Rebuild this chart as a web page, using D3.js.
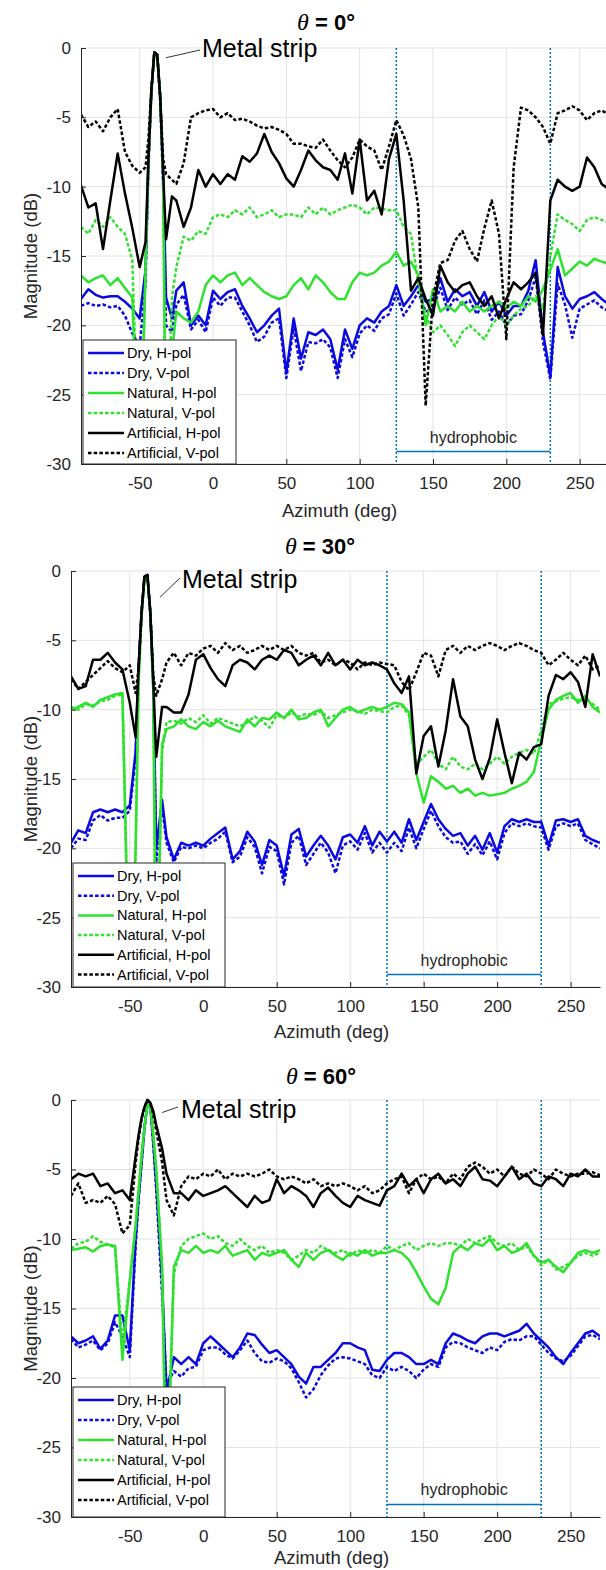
<!DOCTYPE html>
<html>
<head>
<meta charset="utf-8">
<script src="https://cdnjs.cloudflare.com/ajax/libs/d3/7.8.5/d3.min.js"></script>
<style>
body { margin: 0; background: #fff; }
svg { display: block; font-family: "Liberation Sans", Arial, sans-serif; }
.tick text { fill: #262626; font-size: 17px; }
.tick line, .domain { stroke: #262626; }
</style>
</head>
<body>
<svg id="chart" width="606" height="1570"></svg>
<script>

// azimuth samples (deg), denser around the metal strip peak
var azimuth = [-90,-85,-80,-75,-70,-65,-60,-55,-50,-46,-44,-42,-40,-38,-36,-34,-32,-28,
  -25,-20,-15,-10,-5,0,5,10,15,20, 25,30,35,40,45,50,55,60,65,70,
  75,80,85,90,95,100,105,110,115,120, 125,130,135,140,145,150,155,160,165,170,
  175,180,185,190,195,200,205,210,215,220, 225,230,235,240,245,250,255,260,265,270];

var seriesNames = ["Dry, H-pol", "Dry, V-pol", "Natural, H-pol", "Natural, V-pol", "Artificial, H-pol", "Artificial, V-pol"];
var xTicks = [-50, 0, 50, 100, 150, 200, 250];
var yTicks = [-30, -25, -20, -15, -10, -5, 0];
var hydrophobic = [125, 230];
var thetas = ["0°", "30°", "60°"];

// theta = 0
var dryH0 = [-18.1,-17.4,-17.8,-18.0,-17.9,-17.9,-18.3,-18.8,-19.5,-16,-8,-3,-0.3,-0.5,-3.5,-9,-18,-19.5,
  -17.5,-16.9,-20,-19.3,-20,-17.5,-18.1,-17.6,-17.4,-18.6, -19.5,-20.5,-20,-19.3,-18.8,-23.4,-19.5,-22.4,-20.5,-20.7,
  -20.3,-21,-23.2,-20.3,-21.7,-20,-19.5,-19.8,-19,-18.6, -17.1,-18.6,-17.9,-17.1,-18.3,-18.1,-16.6,-18.3,-17.4,-17.9,
  -17.6,-18.6,-17.6,-19,-18.3,-19.3,-18.6,-18.6,-17.5,-15.3, -20.5,-23.7,-15.8,-17.9,-18.8,-18.1,-17.9,-17.6,-18.1,-18.5];
var dryV0 = [-18.6,-18.4,-18.6,-18.5,-18.7,-18.6,-19.3,-20.6,-21.5,-17,-8.5,-3.2,-0.4,-0.6,-3.8,-10,-20,-20.5,
  -18.5,-17.8,-20.3,-19.6,-20.5,-18,-18.6,-18,-18,-19, -20,-21.2,-20.8,-19.8,-19.5,-23.8,-20.2,-23.3,-21.2,-21.3,
  -21,-21.6,-23.8,-21,-22.3,-20.6,-20,-20.4,-19.5,-19.2, -17.7,-19.3,-18.5,-17.6,-19,-18.8,-17.3,-18.9,-18,-18.5,
  -18.2,-19.2,-18.2,-19.6,-19,-20,-19.3,-19.2,-18.2,-16.5, -21.2,-23.9,-17,-18.5,-20.9,-18.8,-18.5,-18.2,-18.7,-19];
var natH0 = [-16.4,-16.9,-16.6,-16.4,-17.1,-16.6,-17.3,-18,-32,-16,-8,-3,-0.3,-0.5,-3.5,-9,-32,-22,
  -19,-19.5,-19.8,-19,-17.1,-16.4,-16.9,-16.4,-16.2,-17.1, -16.6,-17.1,-17.6,-17.9,-18.1,-17.9,-17.1,-16.6,-17.4,-16.4,
  -16.9,-17.6,-18.1,-18.1,-16.9,-16.2,-16.4,-16.2,-15.7,-15.4, -14.7,-15.7,-15.4,-16.4,-20,-17.4,-19,-18.6,-19,-18.3,
  -19,-18.6,-19,-18.6,-18.3,-18.8,-18.3,-18.6,-17.9,-18.3, -17.4,-16,-14.5,-16.4,-15.9,-15.4,-15.7,-15.2,-15.4,-15.6];
var natV0 = [-12.9,-13.4,-12.4,-12.9,-12.2,-12.9,-13.4,-15.3,-32,-16,-8,-3,-0.3,-0.5,-3.5,-9,-32,-18,
  -15.8,-13.6,-13.9,-13.2,-13.4,-12.2,-12,-12.2,-11.7,-12, -11.5,-12.2,-12,-11.7,-12.2,-12,-12,-12.2,-11.5,-12,
  -11.5,-12,-11.7,-11.5,-11.3,-11.5,-12,-11.5,-11.6,-11.7, -11.7,-12.9,-13.4,-17,-19.3,-20.5,-20,-20.7,-21.5,-20.5,
  -20,-20.5,-21,-20,-19.3,-20,-19.3,-18.8,-18.6,-17.9, -18.8,-15,-12,-12.4,-12.7,-13.2,-12.4,-12.2,-12.4,-12.6];
var artH0 = [-9.9,-11.5,-11.2,-14.5,-11,-7.6,-10.5,-13,-15.8,-14,-8,-3,-0.3,-0.5,-3.5,-9,-13.8,-10.7,
  -11,-12.9,-11.5,-8.8,-10,-9.1,-9.8,-9.1,-9.5,-7.8, -8.2,-7.6,-6.2,-7.5,-8.3,-9.4,-10,-8.8,-7.4,-8.1,
  -8.6,-8.8,-9.5,-7.6,-10.5,-6.6,-11,-10.3,-12,-8, -6.2,-11,-17.5,-16.6,-18.1,-19.3,-15.7,-16.9,-17.6,-17.1,
  -16.9,-17.9,-18.6,-17.9,-19.5,-18.1,-16.9,-17.4,-16.9,-16.2, -20.7,-11,-9.5,-10,-10.3,-10,-7.9,-8.6,-9.8,-10.2];
var artV0 = [-4.8,-5.7,-5.3,-6.0,-5.0,-4.4,-7.5,-8.5,-9,-8.6,-6.5,-3,-0.3,-0.5,-3.5,-8,-9.1,-9.5,
  -9.8,-8.3,-5,-4.7,-4.5,-4.4,-5,-4.7,-5.2,-5.1, -5.3,-5.6,-5.8,-5.7,-5.9,-6.2,-6.9,-6.9,-7.1,-7.2,
  -6.6,-7.4,-8.1,-8.6,-7.9,-6.6,-7.1,-7.4,-8.8,-7.1, -5.2,-6.3,-8,-11.5,-25.8,-18,-15.5,-15.3,-13.9,-13.2,
  -14.5,-15.4,-13,-11,-13.4,-21,-8.6,-4.3,-4.5,-5, -5.7,-6.9,-4.7,-4.5,-4.2,-4.5,-5.2,-4.7,-4.5,-4.8];

// theta = 30
var dryH30 = [-19.6,-18.7,-18.9,-17.4,-17.2,-17.4,-17.2,-17.4,-16.9,-13,-7,-3,-0.4,-0.3,-3,-8,-20,-16.5,
  -19.2,-20.8,-19.6,-19.8,-19.6,-19.8,-19.3,-18.9,-18.5,-20.8, -20.2,-18.8,-19.5,-21.2,-19.4,-19.8,-22,-19,-18.6,-20.6,
  -19.8,-19.1,-19.8,-20.8,-19.2,-19,-19.6,-18.4,-19.8,-18.8, -19.5,-18.8,-19.6,-17.9,-19.4,-18.1,-16.8,-17.9,-18.6,-19.1,
  -18.9,-19.8,-19.1,-20.1,-18.9,-20.3,-18.4,-17.9,-18.1,-17.9, -18.1,-18.1,-19.8,-18,-17.9,-18.1,-17.9,-19.1,-19.4,-19.6];
var dryV30 = [-20,-19.3,-19.4,-18,-17.6,-18,-17.8,-17.8,-17.3,-13.5,-7.2,-3.1,-0.4,-0.3,-3.1,-8.5,-21,-17,
  -19.6,-21,-19.9,-20,-19.8,-20,-19.6,-19.3,-18.8,-21, -20.6,-19.2,-19.9,-21.8,-19.9,-20.2,-22.6,-19.6,-19.1,-21.2,
  -20.4,-19.6,-20.3,-21.8,-19.8,-19.5,-20.1,-18.9,-20.3,-19.6, -20.3,-19.6,-20.2,-18.5,-20,-18.6,-17.3,-18.4,-19.2,-19.6,
  -19.5,-20.4,-19.7,-20.5,-19.5,-20.8,-18.9,-18.2,-18.4,-18.2, -18.4,-18.5,-20.1,-18.4,-18.2,-18.4,-18.2,-19.4,-19.7,-20];
var natH30 = [-10,-9.8,-9.5,-9.8,-9.3,-9.1,-8.9,-8.8,-32,-20,-8,-3.2,-0.5,-0.4,-3.2,-8.5,-32,-12.5,
  -11.4,-11.2,-10.7,-11.2,-11.4,-10.9,-11.2,-10.8,-11.2,-11.4, -11.6,-10.7,-11.2,-10.6,-10.7,-10.2,-10.6,-10,-10.7,-10.6,
  -10.2,-10,-11.2,-10.6,-10,-9.8,-10.2,-10,-9.8,-10, -9.8,-9.5,-9.6,-10.2,-14.6,-16.7,-14.8,-15.2,-15.7,-15.5,
  -16,-15.7,-16.2,-16,-16.2,-16.1,-16,-15.7,-15.5,-15.2, -14.5,-12.2,-10,-9.3,-9,-8.8,-9.5,-9,-9.8,-10.2];
var natV30 = [-9.8,-10,-9.6,-9.7,-9.4,-9.3,-9,-8.9,-32,-20,-8,-3.2,-0.5,-0.4,-3.2,-8.5,-32,-13,
  -10.9,-10.8,-11,-10.6,-10.9,-10.4,-11,-10.6,-10.8,-11, -11.2,-10.9,-10.5,-10.8,-11.3,-10.4,-10.6,-10.2,-10.5,-10.3,
  -10.4,-10.1,-10.6,-10.4,-10.2,-10,-10.1,-10.3,-10,-10.1, -10.2,-9.8,-9.7,-10.4,-14,-13.4,-12.9,-13.9,-14.3,-13.4,
  -14.1,-14.3,-13.9,-14.3,-13.9,-13.4,-13.9,-13.4,-13.1,-12.9, -13.2,-11.5,-9.6,-9.4,-9.2,-9.1,-9.3,-9.2,-9.6,-10];
var artH30 = [-7.6,-8.5,-8.3,-6.4,-6.4,-5.9,-6.6,-7.1,-9.5,-12,-7,-3,-0.4,-0.3,-3,-8,-13.4,-9.8,
  -9.8,-10.2,-10.2,-8.9,-6.4,-6,-7,-7.8,-8.3,-6.8, -6.4,-6.6,-7.1,-6.4,-6.1,-6.4,-5.7,-5.9,-6.8,-6.4,
  -6.1,-6.8,-5.9,-6.8,-6.4,-7.1,-6.4,-6.8,-6.6,-6.8, -7.1,-8.1,-8.8,-7.6,-14.6,-11.9,-11.2,-14.1,-11.5,-7.8,
  -10.5,-11.2,-13.6,-15,-13.5,-10.7,-13.1,-15.3,-13.1,-13.6, -12.7,-12.5,-9,-7.5,-7.8,-7.3,-8,-9.8,-6,-7.6];
var artV30 = [-7.8,-8.5,-8,-7.5,-7,-6.5,-7,-7.3,-6.8,-8.8,-7,-3,-0.4,-0.3,-3,-7.5,-9,-7.8,
  -6.6,-5.9,-6.8,-5.9,-6.1,-5.6,-5.4,-5.9,-5.2,-5.7, -5.4,-5.9,-5.7,-5.4,-5.7,-5.4,-5.7,-5.4,-5.9,-6.1,
  -5.9,-6.6,-6.4,-6.8,-6.4,-6.6,-7.1,-6.6,-6.8,-6.6, -6.7,-6.8,-8,-8.6,-7.3,-5.9,-6.1,-7.6,-5.7,-5.4,
  -5.9,-5.4,-5.7,-5.4,-5.2,-5.4,-5.7,-5.4,-5.2,-5.4, -5.7,-5.9,-6.8,-6.4,-5.9,-6.4,-6.8,-6.1,-7.1,-6.8];

// theta = 60
var dryH60 = [-17,-17.5,-17.3,-17,-17.9,-17.3,-15.5,-15.5,-18,-10,-7,-4.5,-2,-0.3,-0.5,-3,-6,-13,
  -21,-18.5,-19,-18.5,-19,-17.5,-17,-17.5,-18,-18.5, -17.8,-16.8,-16.9,-17.6,-18.2,-18,-18.5,-19,-19.9,-20.4,
  -19.2,-19.2,-18.7,-18.2,-17.5,-17.5,-17.8,-18,-19.4,-19.5, -18.7,-18.2,-18.2,-18.5,-19,-19,-18.7,-19,-17.5,-16.8,
  -17,-17.3,-17.5,-17,-16.8,-16.8,-17,-16.8,-16.6,-16.1, -16.8,-17.3,-17.8,-18.5,-19,-18.2,-17.5,-16.8,-16.6,-17];
var dryV60 = [-17.2,-17.8,-17.6,-17.3,-18,-17.5,-16,-17,-18.5,-10.5,-7.2,-4.6,-2,-0.3,-0.5,-3.2,-6.5,-14,
  -20.5,-19.5,-19.9,-19.3,-19.2,-18,-17.8,-17.8,-18.3,-18.6, -18,-17.3,-18.2,-18.8,-18.9,-18.6,-18.8,-19.3,-20.3,-21.4,
  -20.8,-19.8,-19.1,-18.6,-18.5,-18.6,-18.8,-19,-19.8,-20, -19.2,-19.5,-19.2,-19.5,-20,-19.4,-19,-19.2,-17.8,-17.4,
  -17.5,-17.8,-18,-18.2,-17.8,-18,-17.4,-17.2,-17.3,-17, -17,-17.6,-18.2,-18.6,-18.8,-18.4,-17.7,-17,-16.9,-17.2];
var natH60 = [-10.8,-10.7,-10.6,-10.9,-10.5,-10.4,-10.5,-18.7,-13,-9,-6.5,-4,-2,-0.3,-0.5,-2.5,-5,-12,
  -30,-12,-10.8,-11,-10.5,-11,-10.8,-11,-10.5,-11.2, -11,-10.8,-11.5,-11,-11.2,-11,-10.8,-11.5,-12,-11,
  -11.5,-11,-10.8,-11.2,-11.5,-11,-11.2,-10.8,-11.2,-11, -11,-10.8,-11,-11.5,-12.4,-13.4,-14.3,-14.7,-13.5,-11,
  -10.5,-10.8,-10.3,-10.5,-10,-10.8,-10.5,-11,-10.8,-10.3, -11.2,-11.7,-11.5,-12,-12.4,-11.7,-11,-10.8,-11,-10.8];
var natV60 = [-10.7,-10.3,-10.2,-9.8,-10.2,-10.4,-10.6,-17.5,-13,-9,-6.5,-4,-2,-0.3,-0.5,-2.5,-5,-12,
  -28,-12.5,-10.5,-10,-9.8,-9.6,-10,-9.8,-10.3,-10.5, -10,-10.5,-10.8,-10.5,-11,-10.8,-11,-11.5,-11.2,-10.8,
  -11,-10.5,-10.8,-11,-10.8,-11.2,-10.8,-11,-10.8,-11, -10.5,-10.8,-10.5,-10.3,-10.8,-10.5,-10.3,-10.5,-10.3,-10.3,
  -10.5,-10,-10.3,-10,-9.8,-10.3,-10.5,-10.3,-10.8,-10.5, -11.2,-11.9,-11.5,-12.2,-12,-11.7,-11.2,-11,-11.2,-11];
var artH60 = [-5.7,-5.3,-5.5,-5.3,-6.2,-6,-6.7,-6.5,-7.2,-4,-2.5,-1.3,-0.5,0,-0.2,-0.8,-1.8,-3.5,
  -5.3,-6.7,-6.7,-7.2,-6.5,-6.9,-6.7,-6.5,-6.2,-6.7, -7.2,-7.7,-6.9,-7.4,-7.2,-5.7,-6.7,-6.2,-6.5,-6.9,
  -7.7,-6.7,-6.3,-6.9,-7.4,-7.7,-6.9,-7.2,-7.4,-7.6, -6.5,-6.2,-5.3,-6.2,-5.7,-6.7,-5.7,-5.3,-6,-5.7,
  -6.2,-5.3,-4.8,-5.7,-5.8,-6.2,-5.5,-4.8,-5.7,-5.3, -6,-6.2,-5.5,-5.7,-6.2,-5.3,-5.5,-5,-5.5,-5.5];
var artV60 = [-6.9,-6,-7.4,-7.2,-7.4,-6.9,-7.5,-9.6,-9,-4.5,-2.8,-1.4,-0.5,0,-0.3,-1,-2.2,-4.5,
  -7.2,-8.3,-6.2,-5.5,-5.7,-5.3,-5.5,-5,-5.7,-5.3, -5.5,-5.3,-5.5,-5.3,-5,-5.5,-5.7,-5.5,-5.7,-6,
  -5.7,-6.2,-6,-6.2,-6,-6.2,-6.5,-6.2,-6.7,-6.5, -6,-5.7,-5.5,-6.7,-5.7,-5.3,-5.7,-5.5,-6,-5.3,
  -5.7,-4.8,-4.5,-4.8,-5.3,-5,-5.5,-4.8,-5.3,-5.5, -5,-5.3,-5.7,-5,-5.3,-5.5,-5.3,-5.3,-5.2,-5.4];

var colors = ["#0a0ae0", "#0a0ae0", "#2ee22e", "#2ee22e", "#000000", "#000000"];
var dashed = [false, true, false, true, false, true];
var markBlue = "#0072bd";

var panels = [
  {series: [dryH0, dryV0, natH0, natV0, artH0, artV0], xr: [81, 609], yr: [464, 48],
   titleY: 30, titleX: 326, xlabY: 517, legend: {x: 83, y: 340, w: 153, row: 20},
   metal: {x0: -32, y0: -0.7, x1: 200, y1: 50, tx: 202, ty: 57}},
  {series: [dryH30, dryV30, natH30, natV30, artH30, artV30], xr: [71, 600], yr: [987, 571],
   titleY: 554, titleX: 320, xlabY: 1038, legend: {x: 73, y: 863, w: 152, row: 19.7},
   metal: {x0: -29.5, y0: -1.9, x1: 180, y1: 578, tx: 182, ty: 588}},
  {series: [dryH60, dryV60, natH60, natV60, artH60, artV60], xr: [71, 600], yr: [1517, 1100],
   titleY: 1084, titleX: 321, xlabY: 1564, legend: {x: 73, y: 1387, w: 152, row: 20},
   metal: {x0: -28, y0: -0.9, x1: 178, y1: 1107, tx: 181, ty: 1118}}
];

var svg = d3.select("#chart");

panels.forEach(function(p, pi) {
  var x = d3.scaleLinear().domain([-90, 270]).range(p.xr);
  var y = d3.scaleLinear().domain([-30, 0]).range(p.yr);
  var g = svg.append("g");

  // grid
  g.append("g").selectAll("line").data(xTicks).enter().append("line")
      .attr("x1", function(d) { return x(d); }).attr("x2", function(d) { return x(d); })
      .attr("y1", y(0)).attr("y2", y(-30))
      .attr("stroke", "#e3e3e3").attr("stroke-width", 1);
  g.append("g").selectAll("line").data(yTicks).enter().append("line")
      .attr("x1", p.xr[0]).attr("x2", p.xr[1])
      .attr("y1", function(d) { return y(d); }).attr("y2", function(d) { return y(d); })
      .attr("stroke", "#e3e3e3").attr("stroke-width", 1);

  // hydrophobic markers
  g.selectAll(".vmark").data(hydrophobic).enter().append("line")
      .attr("x1", function(d) { return x(d); }).attr("x2", function(d) { return x(d); })
      .attr("y1", y(0)).attr("y2", y(-30))
      .attr("stroke", markBlue).attr("stroke-width", 1.5).attr("stroke-dasharray", "2,2");
  g.append("line")
      .attr("x1", x(hydrophobic[0])).attr("x2", x(hydrophobic[1]))
      .attr("y1", y(-29.1)).attr("y2", y(-29.1))
      .attr("stroke", markBlue).attr("stroke-width", 1.5);
  g.append("text")
      .attr("x", x((hydrophobic[0] + hydrophobic[1]) / 2)).attr("y", y(-29.1) - 9)
      .attr("text-anchor", "middle").attr("font-size", 16).attr("fill", "#262626")
      .text("hydrophobic");

  // curves
  var clipId = "clip" + pi;
  g.append("clipPath").attr("id", clipId).append("rect")
      .attr("x", p.xr[0]).attr("y", y(0) - 4)
      .attr("width", p.xr[1] - p.xr[0]).attr("height", y(-30) - y(0) + 4);
  var line = d3.line()
      .x(function(d, i) { return x(azimuth[i]); })
      .y(function(d) { return y(d); });
  var curves = g.append("g").attr("clip-path", "url(#" + clipId + ")");
  p.series.forEach(function(vals, si) {
    curves.append("path")
        .attr("d", line(vals))
        .attr("fill", "none")
        .attr("stroke", colors[si])
        .attr("stroke-width", 2.5)
        .attr("stroke-linejoin", "round")
        .attr("stroke-dasharray", dashed[si] ? "3.5,2.2" : null);
  });

  // axes
  var fmt = function(d) { return String(d); };
  g.append("g").attr("transform", "translate(0," + p.yr[0] + ")")
      .call(d3.axisBottom(x).tickValues(xTicks).tickFormat(fmt).tickSize(-5).tickSizeOuter(0).tickPadding(13))
      .call(function(a) { a.attr("font-family", null).attr("font-size", null); });
  g.append("g").attr("transform", "translate(" + p.xr[0] + ",0)")
      .call(d3.axisLeft(y).tickValues(yTicks).tickFormat(fmt).tickSize(-5).tickSizeOuter(0).tickPadding(10))
      .call(function(a) { a.attr("font-family", null).attr("font-size", null); });

  // title
  var t = g.append("text").attr("x", p.titleX).attr("y", p.titleY)
      .attr("text-anchor", "middle").attr("font-size", 22).attr("fill", "#000");
  t.append("tspan").attr("font-family", "'Liberation Serif', 'DejaVu Serif', serif")
      .attr("font-style", "italic").attr("font-size", 24).text("θ");
  t.append("tspan").attr("font-weight", "bold").text(" = " + thetas[pi]);

  // axis labels
  g.append("text").attr("x", (p.xr[0] + Math.min(p.xr[1], 606)) / 2 - 4).attr("y", p.xlabY)
      .attr("text-anchor", "middle").attr("font-size", 18.5).attr("fill", "#262626")
      .text("Azimuth (deg)");
  g.append("text")
      .attr("transform", "translate(37," + ((p.yr[0] + p.yr[1]) / 2) + ") rotate(-90)")
      .attr("text-anchor", "middle").attr("font-size", 18.5).attr("fill", "#262626")
      .text("Magnitude (dB)");

  // metal strip annotation
  var m = p.metal;
  g.append("line")
      .attr("x1", x(m.x0)).attr("y1", y(m.y0)).attr("x2", m.x1).attr("y2", m.y1)
      .attr("stroke", "#333").attr("stroke-width", 1);
  g.append("text").attr("x", m.tx).attr("y", m.ty)
      .attr("font-size", 25).attr("fill", "#000").text("Metal strip");

  // legend
  var L = p.legend;
  var lg = g.append("g");
  lg.append("rect").attr("x", L.x).attr("y", L.y).attr("width", L.w).attr("height", p.yr[0] - L.y)
      .attr("fill", "#fff").attr("stroke", "#262626").attr("stroke-width", 1);
  seriesNames.forEach(function(name, si) {
    var yy = L.y + 13 + si * L.row;
    lg.append("line")
        .attr("x1", L.x + 5).attr("x2", L.x + 41).attr("y1", yy).attr("y2", yy)
        .attr("stroke", colors[si]).attr("stroke-width", 2.5)
        .attr("stroke-dasharray", dashed[si] ? "3.5,2.2" : null);
    lg.append("text").attr("x", L.x + 44).attr("y", yy + 5)
        .attr("font-size", 14.5).attr("fill", "#000").text(name);
  });
});

</script>
</body>
</html>
